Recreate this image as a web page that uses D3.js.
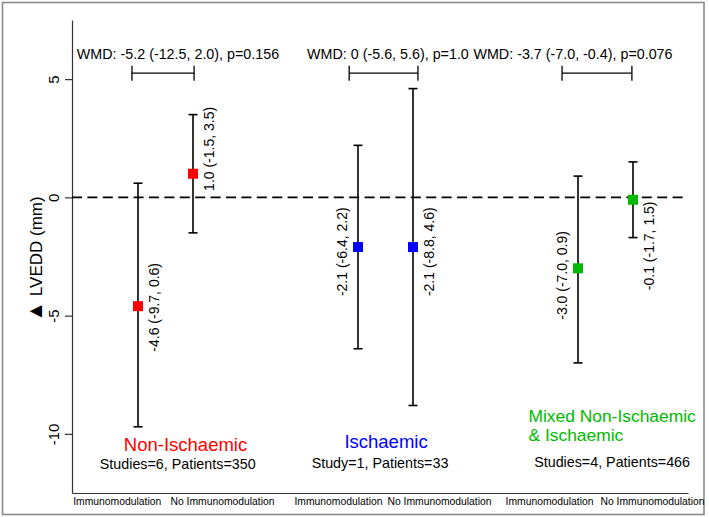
<!DOCTYPE html>
<html>
<head>
<meta charset="utf-8">
<script src="https://cdn.jsdelivr.net/npm/d3@7"></script>
<style>
  html, body { margin: 0; padding: 0; background: #fff; }
  svg { display: block; font-family: "Liberation Sans", Arial, sans-serif; }
</style>
</head>
<body>
<svg id="chart" width="709" height="517"></svg>
<script>
// ---------- data ----------
const groups = ["Non-Ischaemic", "Ischaemic", "Mixed Non-Ischaemic & Ischaemic"];
const groupColors = ["#ff0000", "#0000ff", "#00b900"];
const arms = ["Immunomodulation", "No Immunomodulation"];
const means = [-4.6, 1.0, -2.1, -2.1, -3.0, -0.1];
const lower = [-9.7, -1.5, -6.4, -8.8, -7.0, -1.7];
const upper = [0.6, 3.5, 2.2, 4.6, 0.9, 1.5];
const wmdLabels = [
  "WMD: -5.2 (-12.5, 2.0), p=0.156",
  "WMD: 0 (-5.6, 5.6), p=1.0",
  "WMD: -3.7 (-7.0, -0.4), p=0.076"
];
const studyLabels = ["Studies=6, Patients=350", "Study=1, Patients=33", "Studies=4, Patients=466"];
const yTicks = [-10, -5, 0, 5];
const yTitleSymbol = "\u25B2";
const yTitle = " LVEDD (mm)";

// ---------- layout (annotation placement, in scale units) ----------
const labelAt = [-4.65, 2.05, -2.3, -2.3, -3.3, -2.05];   // centre of rotated value labels
const labelSide = [1, 1, -1, 1, -1, 1];
const bracketX = [[-0.11, 1.02], [3.84, 5.09], [7.71, 8.98]];
const wmdX = [0.727, 4.545, 7.909];
const armTickX = [-0.387, 1.527, 3.636, 5.473, 7.473, 9.345];

const svg = d3.select("#chart");
const x = d3.scaleLinear().domain([-1.2, 10]).range([72, 688]);
const y = d3.scaleLinear().domain([-12.5, 7.5]).range([493, 20]);

const rows = means.map((m, i) => ({
  m, lo: lower[i], hi: upper[i],
  g: Math.floor(i / 2), a: i % 2,
  pos: Math.floor(i / 2) * 4 + (i % 2),
  i
}));

// outer frame
svg.append("rect").attr("x", 2.5).attr("y", 2.5).attr("width", 701.5).attr("height", 512)
  .attr("fill", "none").attr("stroke", "#8a8a8a").attr("stroke-width", 1.6);

// y axis
const yAxis = svg.append("g").attr("transform", `translate(${x(-1.2)},0)`)
  .call(d3.axisLeft(y).tickValues(yTicks).tickSize(7).tickSizeOuter(0).tickFormat(d => String(d)));
yAxis.select(".domain").attr("stroke", "#333").attr("stroke-width", 1.2);
yAxis.selectAll(".tick line").attr("stroke", "#333").attr("stroke-width", 1.2);
yAxis.selectAll(".tick text")
  .attr("x", null).attr("dy", null)
  .attr("transform", "translate(-13,0) rotate(-90)")
  .attr("text-anchor", "middle")
  .attr("font-size", 15).attr("fill", "#000")
  .attr("font-family", "Liberation Sans, Arial, sans-serif");

// x axis
const xAxis = svg.append("g").attr("transform", `translate(0,${y(-12.5)})`)
  .call(d3.axisBottom(x).tickValues(armTickX).tickSize(0).tickSizeOuter(0)
    .tickFormat((d, i) => arms[i % 2]));
xAxis.select(".domain").attr("stroke", "#333").attr("stroke-width", 1.2);
xAxis.selectAll(".tick text")
  .attr("y", 12).attr("dy", null)
  .attr("font-size", 10.35).attr("fill", "#000")
  .attr("font-family", "Liberation Sans, Arial, sans-serif");

// y title
const yt = svg.append("text")
  .attr("transform", `translate(42,${259}) rotate(-90)`)
  .attr("text-anchor", "middle").attr("font-size", 17).attr("fill", "#000");
yt.append("tspan").attr("font-size", 21).text(yTitleSymbol);
yt.append("tspan").text(yTitle);

// zero line
svg.append("line")
  .attr("x1", x(-1.2)).attr("x2", x(10)).attr("y1", y(0)).attr("y2", y(0))
  .attr("stroke", "#000").attr("stroke-width", 1.6).attr("stroke-dasharray", "10,5.4");

// error bars
const capW = 4.5;
const eb = svg.append("g").attr("stroke", "#000").attr("stroke-width", 1.6);
eb.selectAll("line.v").data(rows).join("line").attr("class", "v")
  .attr("x1", d => x(d.pos)).attr("x2", d => x(d.pos))
  .attr("y1", d => y(d.lo)).attr("y2", d => y(d.hi));
eb.selectAll("line.ct").data(rows).join("line").attr("class", "ct")
  .attr("x1", d => x(d.pos) - capW).attr("x2", d => x(d.pos) + capW)
  .attr("y1", d => y(d.hi)).attr("y2", d => y(d.hi));
eb.selectAll("line.cb").data(rows).join("line").attr("class", "cb")
  .attr("x1", d => x(d.pos) - capW).attr("x2", d => x(d.pos) + capW)
  .attr("y1", d => y(d.lo)).attr("y2", d => y(d.lo));

// markers
const ms = 10;
svg.selectAll("rect.mk").data(rows).join("rect").attr("class", "mk")
  .attr("x", d => x(d.pos) - ms / 2).attr("y", d => y(d.m) - ms / 2)
  .attr("width", ms).attr("height", ms)
  .attr("fill", d => groupColors[d.g]);

// value labels
const fmt = v => v.toFixed(1);
svg.selectAll("text.val").data(rows).join("text").attr("class", "val")
  .attr("transform", d => `translate(${x(d.pos) + labelSide[d.i] * 16},${y(labelAt[d.i])}) rotate(-90)`)
  .attr("text-anchor", "middle").attr("dominant-baseline", "central")
  .attr("font-size", 14).attr("fill", "#000")
  .text(d => `${fmt(d.m)} (${fmt(d.lo)}, ${fmt(d.hi)})`);

// WMD brackets
const br = svg.append("g").attr("stroke", "#000").attr("stroke-width", 1.3);
bracketX.forEach(([a, b]) => {
  br.append("line").attr("x1", x(a)).attr("x2", x(b)).attr("y1", y(5.25)).attr("y2", y(5.25));
  br.append("line").attr("x1", x(a)).attr("x2", x(a)).attr("y1", y(5.25) - 7.5).attr("y2", y(5.25) + 7.5);
  br.append("line").attr("x1", x(b)).attr("x2", x(b)).attr("y1", y(5.25) - 7.5).attr("y2", y(5.25) + 7.5);
});
svg.selectAll("text.wmd").data(wmdLabels).join("text").attr("class", "wmd")
  .attr("x", (d, i) => x(wmdX[i])).attr("y", y(5.85))
  .attr("text-anchor", "middle").attr("font-size", 14.3).attr("fill", "#000")
  .text(d => d);

// group titles
svg.append("text").attr("x", x(0.864)).attr("y", y(-10.73))
  .attr("text-anchor", "middle").attr("font-size", 18.5).attr("fill", groupColors[0]).text(groups[0]);
svg.append("text").attr("x", x(4.51)).attr("y", y(-10.6))
  .attr("text-anchor", "middle").attr("font-size", 18.5).attr("fill", groupColors[1]).text(groups[1]);
const mixedParts = ["Mixed Non-Ischaemic", "& Ischaemic"];
const mixedY = [-9.5, -10.3];
mixedParts.forEach((t, k) => {
  svg.append("text").attr("x", x(7.1)).attr("y", y(mixedY[k]))
    .attr("text-anchor", "start").attr("font-size", 17.4).attr("fill", groupColors[2]).text(t);
});

// study counts
const studyX = [0.722, 4.4, 8.62];
const studyY = [-11.49, -11.44, -11.4];
svg.selectAll("text.st").data(studyLabels).join("text").attr("class", "st")
  .attr("x", (d, i) => x(studyX[i])).attr("y", (d, i) => y(studyY[i]))
  .attr("text-anchor", "middle").attr("font-size", 14.3).attr("fill", "#000")
  .text(d => d);
</script>
</body>
</html>
